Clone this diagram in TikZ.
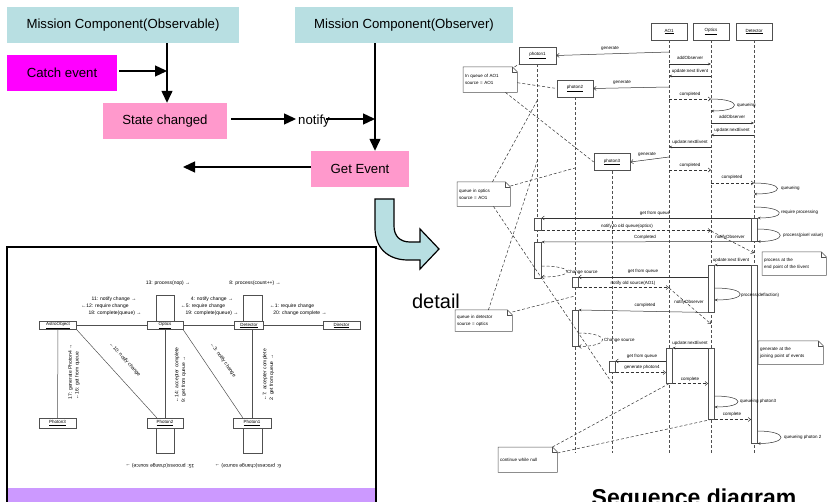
\documentclass[tikz,border=0pt]{standalone}
\usepackage{fontspec}
\setmainfont{Liberation Sans}
\usetikzlibrary{arrows.meta}
\definecolor{cyanc}{RGB}{184,223,226}
\definecolor{pinkc}{RGB}{255,153,204}
\definecolor{magc}{RGB}{255,0,255}
\definecolor{lavc}{RGB}{204,153,255}
\definecolor{lgray}{RGB}{80,80,80}
\newcommand\actb[5]{\node[act, anchor=north west, minimum width={(#4-#2)*1pt}, minimum height={(#5-#3)*1pt}] (#1) at (#2,#3) {};}
\newcommand\mynote[6]{%
  \pgfmathsetmacro\mynw{#4-#2-4}\pgfmathsetmacro\mynh{#5-#3}%
  \node[notebox, anchor=north west, text width=\mynw pt, minimum height=\mynh pt] (#1) at (#2,#3) {#6};
  \draw[notel] (#1.north west) -- ([xshift=-5pt]#1.north east) -- ([yshift=-5pt]#1.north east) -- (#1.south east) -- (#1.south west) -- cycle;
  \draw[notel] ([xshift=-5pt]#1.north east) |- ([yshift=-5pt]#1.north east);}
\begin{document}
\begin{tikzpicture}[x=1pt,y=-1pt,
  bigbox/.style={minimum height=36pt, inner sep=0pt, font=\fontsize{13.2}{15}\selectfont},
  bigarrow/.style={line width=1.3pt, -{Triangle[length=12pt,width=11pt]}},
  cdbox/.style={draw=lgray, line width=0.5pt, fill=white, inner sep=0pt, font=\fontsize{4.5}{5}\selectfont},
  cdline/.style={draw=lgray, line width=0.5pt},
  cdlab/.style={font=\fontsize{5}{6.6}\selectfont, inner sep=0pt, align=left},
  sbox/.style={draw=lgray, line width=0.6pt, fill=white, minimum width=36pt, minimum height=17pt, inner sep=0pt, font=\fontsize{4.5}{5}\selectfont},
  life/.style={draw=lgray, dash pattern=on 3pt off 2pt, line width=0.6pt},
  act/.style={draw=lgray, fill=white, line width=0.5pt, inner sep=0pt},
  msg/.style={draw=black!80, line width=0.5pt, -{Stealth[length=3pt,width=2.5pt]}},
  gen/.style={draw=black!80, line width=0.5pt, -{Straight Barb[length=2.5pt,width=4pt]}},
  ret/.style={draw=black!80, line width=0.5pt, dash pattern=on 3pt off 2pt, -{Straight Barb[length=2.5pt,width=4pt]}},
  slab/.style={font=\fontsize{4.5}{5}\selectfont, inner sep=0pt},
  notebox/.style={fill=white, inner xsep=2pt, inner ysep=0pt, align=left, font=\fontsize{4.5}{7}\selectfont},
  notel/.style={draw=lgray, line width=0.5pt},
  notedash/.style={draw=black!80, dash pattern=on 3pt off 2pt, line width=0.5pt}]
\useasboundingbox (0,0) rectangle (827,502);

% ---------- top flow ----------
\node[bigbox, fill=cyanc, minimum width=232pt] (obsable) at (123,25) {Mission Component(Observable)};
\node[bigbox, fill=cyanc, minimum width=218pt] (obsver) at (404,25) {Mission Component(Observer)};
\node[bigbox, fill=magc, minimum width=110pt] (catch) at (62,73) {Catch event};
\node[bigbox, fill=pinkc, minimum width=124pt] (statech) at (165,121) {State changed};
\node[bigbox, fill=pinkc, minimum width=98pt] (getev) at (360,169) {Get Event};
\node[font=\fontsize{13.2}{15}\selectfont, inner sep=0pt] (notify) at (314,121) {notify};
\coordinate (j1) at (167,71);
\coordinate (j2) at (375,119);
\coordinate (gl) at (183,167);
\draw[bigarrow] (obsable.south -| j1) -- (statech.north -| j1);
\draw[bigarrow] ([xshift=2pt]catch.east |- j1) -- (j1);
\draw[bigarrow] ([xshift=4pt]statech.east |- j2) -- ([xshift=-2pt]notify.west |- j2);
\draw[bigarrow] ([xshift=-4pt]notify.east |- j2) -- (j2);
\draw[bigarrow] (obsver.south -| j2) -- (getev.north -| j2);
\draw[bigarrow] (getev.west |- gl) -- (gl);

\draw[line width=1.2pt, fill=cyanc, line join=miter] (375,199) -- (394,199) -- (394,226)
  .. controls (394,236) and (400,242) .. (410,242) -- (420,242) -- (420,229) -- (439,249)
  -- (420,269) -- (420,260) -- (408,260) .. controls (388,260) and (375,248) .. (375,228) -- cycle;
\node[font=\fontsize{20}{22}\selectfont, inner sep=0pt, anchor=base] (detail) at (436,309) {detail};

% ---------- communication diagram ----------
\fill[lavc] (8,488) rectangle (375,502);
\draw[line width=2pt] (7,515) -- (7,247) -- (376,247) -- (376,515);
\node[cdbox, minimum width=37pt, minimum height=8pt] (aobj) at (58,325.5) {\underline{AstroObject}};
\node[cdbox, minimum width=36pt, minimum height=8pt] (copt) at (165,325.5) {\underline{Optics}};
\node[cdbox, minimum width=29pt, minimum height=8pt] (cdet) at (249,325.5) {\underline{Detector}};
\node[cdbox, minimum width=37pt, minimum height=8pt] (cdir) at (341.5,325.5) {\underline{Director}};
\node[cdbox, minimum width=37pt, minimum height=10pt] (cph3) at (57.5,423) {\underline{Photon3}};
\node[cdbox, minimum width=36pt, minimum height=10pt] (cph2) at (165,423) {\underline{Photon2}};
\node[cdbox, minimum width=38pt, minimum height=10pt] (cph1) at (252,423) {\underline{Photon1}};
\actb{coa}{156}{295}{174}{321.5}
\actb{cda}{243}{295}{262}{321.5}
\actb{cp2a}{156}{428}{174}{453}
\actb{cp1a}{243}{428}{262}{453}
\draw[cdline] (aobj) -- (copt);
\draw[cdline] (copt) -- (cdet);
\draw[cdline] (cdet) -- (cdir);
\draw[cdline] (aobj) -- (cph3);
\draw[cdline] (copt) -- (cph2);
\draw[cdline] (cph1 |- cdet.south) -- (cph1.north);
\draw[cdline] (aobj.south east) -- ([xshift=10pt]cph2.north west);
\draw[cdline] (copt.south east) -- ([xshift=10pt]cph1.north west);
\node[cdlab] (c13) at (168,283) {13: process(nop) →};
\node[cdlab] (c8) at (255,283) {8: process(count++) →};
\node[cdlab] (c11) at (114,299) {11: notify change →};
\node[cdlab] (c12) at (105,306) {←12: require change};
\node[cdlab] (c18) at (115,313) {18: complete(queue) →};
\node[cdlab] (c4) at (212,299) {4: notify change →};
\node[cdlab] (c5) at (203,306) {←5: require change};
\node[cdlab] (c19) at (212,313) {19: complete(queue) →};
\node[cdlab] (c1) at (292,306) {←1: require change};
\node[cdlab] (c20) at (300,313) {20: change complete →};
\node[cdlab, rotate=90] (c17) at (74,372) {17: generate Photon4 →\\←16: get from queue};
\node[cdlab, rotate=90] (c14) at (180.5,375) {←14: accepter complete\\9: get from queue →};
\node[cdlab, rotate=90] (c7) at (268.5,375) {←7: accepter complete\\2: get from queue →};
\node[cdlab, rotate=-48] (c10) at (125,360) {←10: notify change};
\node[cdlab, rotate=-55] (c3) at (223,360) {←3: notify change};
\node[cdlab, rotate=180] (c15) at (160,466) {15: process(change source) →};
\node[cdlab, rotate=180] (c6) at (248,466) {6: process(change source) →};

% ---------- sequence diagram ----------
\node[sbox] (ao1) at (669,31.5) {\underline{AO1}};
\node[sbox] (opt) at (711,31.5) {\underline{Optics}};
\node[sbox] (det) at (754,31.5) {\underline{Detector}};
\node[sbox, minimum width=37pt] (ph1) at (537.5,55.5) {\underline{photon1}};
\node[sbox] (ph2) at (575,88.5) {\underline{photon2}};
\node[sbox] (ph3) at (612,162) {\underline{photon3}};
\draw[life] (ao1.south) -- (ao1 |- 0,453);
\draw[life] (opt.south) -- (opt |- 0,453);
\draw[life] (det.south) -- (det |- 0,455);
\draw[life] (ph1.south) -- (ph1 |- 0,278);
\draw[life] (ph2.south) -- (ph2 |- 0,453);
\draw[life] (ph3.south) -- (ph3 |- 0,453);

\actb{p1a1}{534}{218}{541}{230}
\actb{p1a2}{534}{242}{541}{278}
\actb{da1}{751}{218}{757}{241}
\actb{da2}{751}{265}{757}{443}
\actb{oa1}{708}{265}{714}{312}
\actb{oa2}{708}{348}{714}{419}
\actb{p2a1}{572}{277}{578}{287}
\actb{p2a2}{572}{310}{578}{346}
\actb{aa1}{666}{348}{672}{383}
\actb{p3a1}{609}{361}{615}{372}

\draw[gen] (ao1 |- 0,52) -- (ph1.east);
\node[slab] (m1) at (610,49) {generate};
\draw[msg] (ao1 |- 0,64) -- (opt |- 0,64);
\node[slab] (m2) at (690,58) {addObserver};
\draw[msg] (opt |- 0,76) -- (ao1 |- 0,76);
\node[slab] (m3) at (690,71) {update:next Event};
\draw[gen] (ao1 |- 0,87) -- (ph2.east);
\node[slab] (m4) at (622,83) {generate};
\draw[ret] (ao1 |- 0,99) -- (opt |- 0,99);
\node[slab] (m5) at (690,94) {completed};
\draw[msg] (opt |- 0,99) .. controls +(31,0) and +(31,0) .. (opt |- 0,111);
\node[slab, anchor=west] (m6) at (737,105) {queueing};
\draw[msg] (opt |- 0,123) -- (det |- 0,123);
\node[slab] (m7) at (732,117) {addObserver};
\draw[msg] (det |- 0,135) -- (opt |- 0,135);
\node[slab] (m8) at (732,130) {update:nextEvent};
\draw[msg] (opt |- 0,147) -- (ao1 |- 0,147);
\node[slab] (m9) at (690,142) {update:nextEvent};
\draw[gen] (ao1 |- 0,157) -- (ph3.east);
\node[slab] (m10) at (647,155) {generate};
\draw[ret] (ao1 |- 0,170) -- (opt |- 0,170);
\node[slab] (m11) at (690,165) {completed};
\draw[ret] (opt |- 0,183) -- (det |- 0,183);
\node[slab] (m12) at (732,177) {completed};
\draw[msg] (det |- 0,183) .. controls +(31,0) and +(31,0) .. (det |- 0,194);
\node[slab, anchor=west] (m13) at (781,188) {queueing};
\draw[msg] (det |- 0,207) .. controls +(31,0) and +(31,0) .. (da1.north east);
\node[slab, anchor=west] (m14) at (781,212) {require processing};
\draw[gen] (da1.north west) -- (p1a1.north east);
\node[slab] (m15) at (655,213) {get from queue};
\draw[ret] (p1a1.south east) -- (opt |- p1a1.south);
\node[slab] (m16) at (627,226) {notify to old queue(optics)};
\draw[msg] (da1.east |- 0,229) .. controls +(30,0) and +(30,0) .. (da1.south east);
\node[slab, anchor=west] (m17) at (783,235) {process(pixel value)};
\draw[ret] (opt |- 0,231) -- (det |- 0,253);
\node[slab] (m18) at (730,237) {notifyObserver};
\draw[msg] (da1.south west) -- (p1a2.north east);
\node[slab] (m19) at (645,237) {Completed};
\draw[ret] (p1a2.east |- 0,266) .. controls +(34,0) and +(34,0) .. (p1a2.east |- 0,277);
\node[slab, anchor=west] (m20) at (567,272) {Change source};
\draw[msg] (da2.north west) -- (oa1.north east);
\node[slab] (m21) at (731,260) {update:next Event};
\draw[gen] (oa1.west |- 0,277) -- (p2a1.north east);
\node[slab] (m22) at (643,271) {get from queue};
\draw[ret] (p2a1.south east) -- (ao1 |- p2a1.south);
\node[slab] (m23) at (633,283) {notify old source(AO1)};
\draw[msg] (oa1.east |- 0,288) .. controls +(34,0) and +(34,0) .. (oa1.east |- 0,300);
\node[slab, anchor=west] (m24) at (741,295) {process(deflaction)};
\draw[ret] (ao1 |- 0,288) -- (opt |- 0,324);
\node[slab] (m25) at (689,302) {notifyObserver};
\draw[msg] (oa1.south west) -- (p2a2.north east);
\node[slab] (m26) at (645,305) {completed};
\draw[ret] (p2a2.east |- 0,333) .. controls +(32,0) and +(32,0) .. (p2a2.south east);
\node[slab, anchor=west] (m27) at (604,340) {Change source};
\draw[msg] (oa2.north west) -- (aa1.north east);
\node[slab] (m28) at (690,343) {update:nextEvent};
\draw[gen] (aa1.west |- 0,361) -- (p3a1.north east);
\node[slab] (m29) at (642,356) {get from queue};
\draw[ret] (p3a1.south east) -- (aa1.west |- p3a1.south);
\node[slab] (m30) at (642,367) {generate photon4};
\draw[ret] (aa1.south east) -- (oa2.west |- aa1.south);
\node[slab] (m31) at (690,379) {complete};
\draw[msg] (oa2.east |- 0,396) .. controls +(31,0) and +(31,0) .. (oa2.east |- 0,407);
\node[slab, anchor=west] (m32) at (740,401) {queueing photon3};
\draw[ret] (oa2.south east) -- (da2.west |- oa2.south);
\node[slab] (m33) at (732,414) {complete};
\draw[msg] (da2.east |- 0,431) .. controls +(31,0) and +(31,0) .. (da2.south east);
\node[slab, anchor=west] (m34) at (784,437) {queueing photon 2};

% notes
\mynote{nAO}{463}{67}{517}{92}{In queue of AO1\\source = AO1}
\mynote{nOpt}{457}{182}{510}{206}{queue in optics\\source = AO1}
\mynote{nDet}{455}{310}{512}{331}{queue in detector\\source = optics}
\mynote{nNull}{498}{447}{557}{472}{continue while null}
\mynote{nEnd}{762}{252}{826}{275}{process at the\\end point of the Event}
\mynote{nJoin}{758}{341}{823}{364}{generate at the\\joining point of events}
\draw[notedash] ([xshift=-3pt]nAO.north east) -- (ph1.south west);
\draw[notedash] ([yshift=-3pt]nAO.east) -- (ph2.west);
\draw[notedash] ([xshift=-12pt]nAO.south east) -- (ph3.west);
\draw[notedash] ([xshift=-18pt]nOpt.north east) -- (ph1 |- 0,100);
\draw[notedash] ([yshift=-4pt]nOpt.north east) -- (ph2 |- 0,168);
\draw[notedash] ([xshift=-17pt]nOpt.south east) -- (ph3 |- 0,383);
\draw[notedash] ([xshift=-24pt]nDet.north east) -- (ph1 |- 0,160);
\draw[notedash] ([yshift=-2pt]nDet.north east) -- (ph2 |- 0,296);
\draw[notedash] ([xshift=-5pt]nNull.north east) -- (aa1.south);
\draw[notedash] ([yshift=-6pt]nNull.north east) -- (oa2.south);

\node[font=\bfseries\fontsize{23}{25}\selectfont, inner sep=0pt, anchor=base] (title) at (694,505) {Sequence diagram};
\end{tikzpicture}
\end{document}
